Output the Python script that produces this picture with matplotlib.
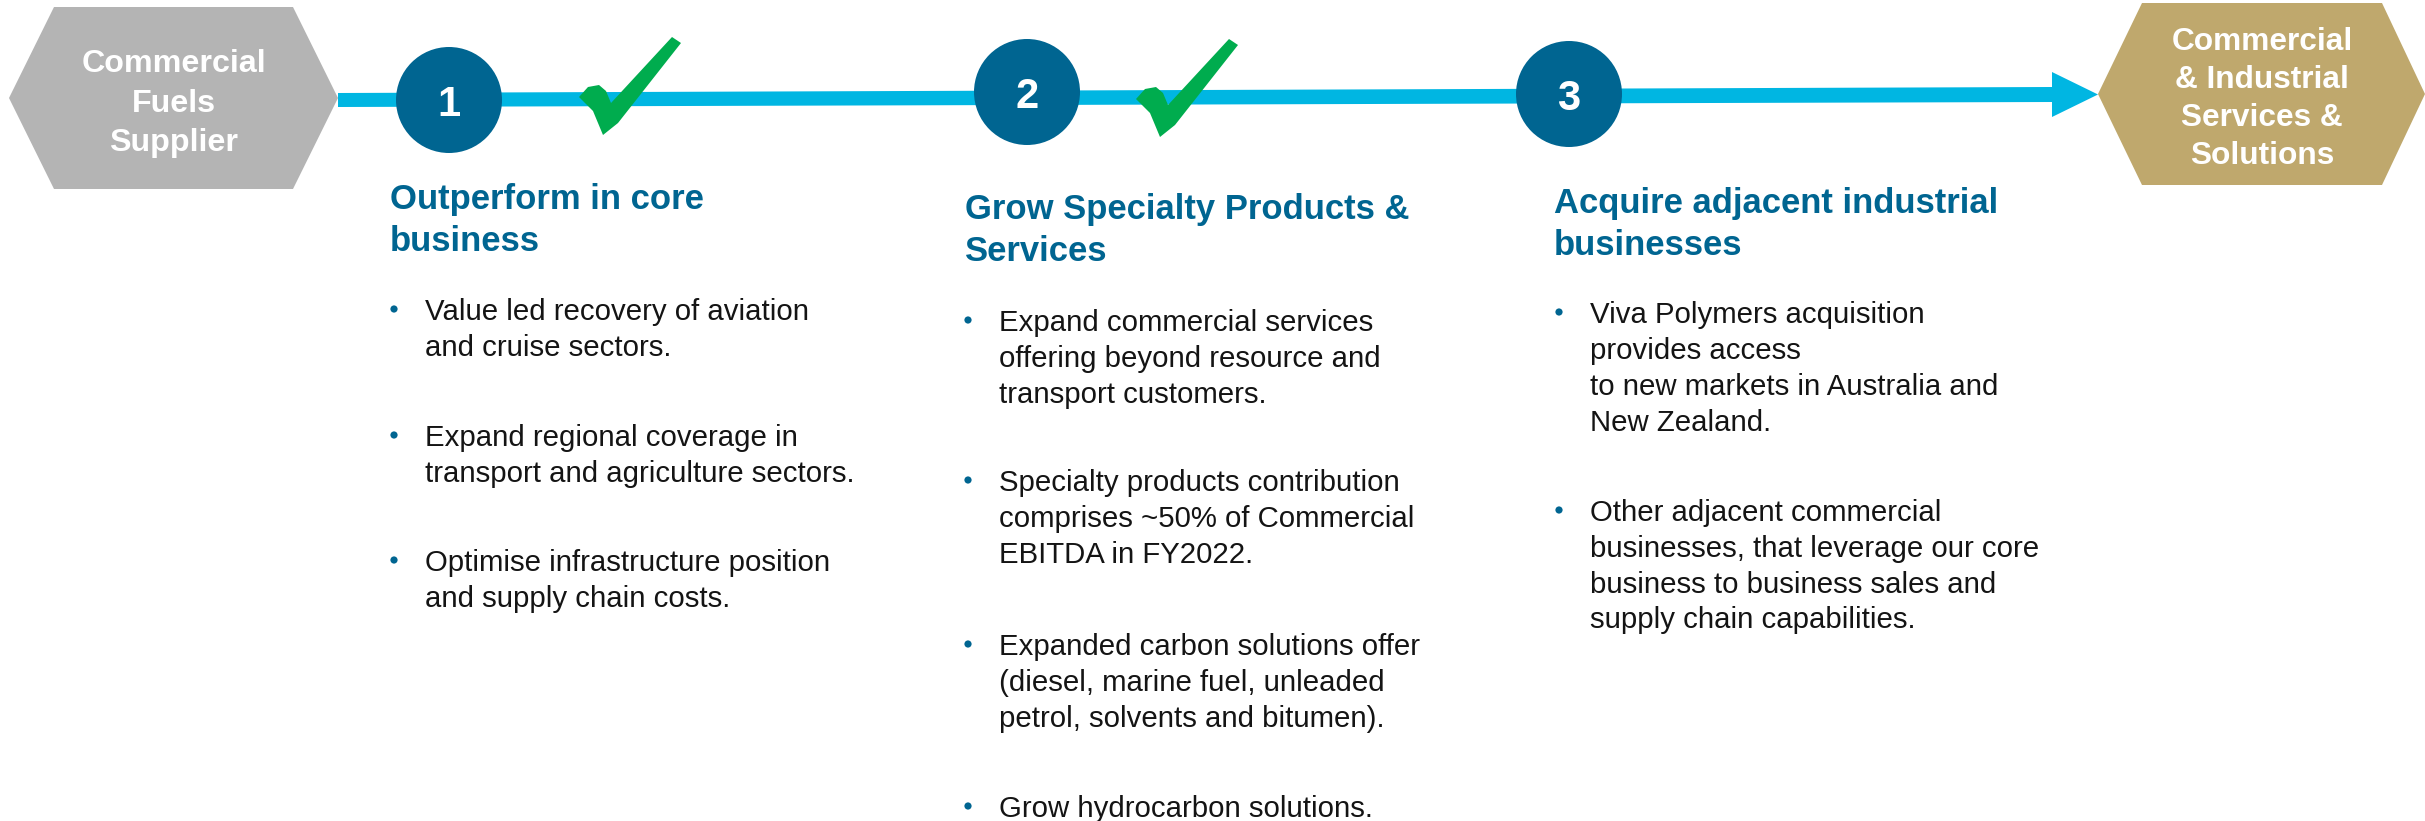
import matplotlib
matplotlib.use("Agg")
import matplotlib.pyplot as plt
from matplotlib.patches import Polygon, Circle

# ---------------- data ----------------
start_label = ["Commercial", "Fuels", "Supplier"]
end_label = ["Commercial", "& Industrial", "Services &", "Solutions"]
step_numbers = ["1", "2", "3"]
step_done = [True, True, False]
headings = [
    ["Outperform in core", "business"],
    ["Grow Specialty Products &", "Services"],
    ["Acquire adjacent industrial", "businesses"],
]
bullets = [
    [
        ["Value led recovery of aviation", "and cruise sectors."],
        ["Expand regional coverage in", "transport and agriculture sectors."],
        ["Optimise infrastructure position", "and supply chain costs."],
    ],
    [
        ["Expand commercial services", "offering beyond resource and", "transport customers."],
        ["Specialty products contribution", "comprises ~50% of Commercial", "EBITDA in FY2022."],
        ["Expanded carbon solutions offer", "(diesel, marine fuel, unleaded", "petrol, solvents and bitumen)."],
        ["Grow hydrocarbon solutions."],
    ],
    [
        ["Viva Polymers acquisition", "provides access", "to new markets in Australia and", "New Zealand."],
        ["Other adjacent commercial", "businesses, that leverage our core",
         "business to business sales and", "supply chain capabilities."],
    ],
]

# ---------------- layout (pixel coordinates) ----------------
W, H = 2425, 821
DARK_BLUE = "#006591"
CYAN = "#00B6E2"
GREEN = "#00AC4E"
GREY = "#B4B4B4"
GOLD = "#BFA86D"
TEXT = "#141414"
FONT = ["Liberation Sans", "DejaVu Sans"]

circle_cx = [449, 1027, 1569]
circle_cy = [100, 92, 94]
circle_r = 53
check_anchor = [(579, 37), (1136, 39)]
check_shape = [(0, 60), (9, 50), (20, 48), (27, 54), (32, 66), (93, 0), (102, 6),
               (39, 86), (24, 98), (14, 74)]
head_x = [390, 965, 1554]
head_base = [209, 219, 213]
head_step = 42
bullet_x = [394, 968, 1559]
text_x = [425, 999, 1590]
bullet_baselines = [
    [[320, 356], [446, 482], [571, 607]],
    [[331, 367, 403], [491, 527, 563], [655, 691, 727], [817]],
    [[323, 359, 395, 431], [521, 557, 593, 628]],
]

fig = plt.figure(figsize=(W / 100, H / 100), dpi=100)
ax = fig.add_axes([0, 0, 1, 1])
ax.set_xlim(0, W)
ax.set_ylim(H, 0)
ax.axis("off")

# start hexagon
ax.add_patch(Polygon([(9, 98), (54, 7), (293, 7), (338, 98), (293, 189), (54, 189)],
                     closed=True, fc=GREY, ec="none", zorder=2))
for i, s in enumerate(start_label):
    ax.text(173.5, 72 + 39.5 * i, s, ha="center", va="baseline", color="white",
            fontsize=23.2, fontweight="bold", family=FONT, zorder=5)

# end hexagon
ax.add_patch(Polygon([(2098, 94), (2142, 3), (2382, 3), (2425, 94), (2382, 185), (2142, 185)],
                     closed=True, fc=GOLD, ec="none", zorder=2))
for i, s in enumerate(end_label):
    ax.text(2262, 50 + 38 * i, s, ha="center", va="baseline", color="white",
            fontsize=22.8, fontweight="bold", family=FONT, zorder=5)

# timeline shaft and arrow head
ax.add_patch(Polygon([(338, 93), (2053, 87), (2053, 102), (338, 107)],
                     closed=True, fc=CYAN, ec="none", zorder=1))
ax.add_patch(Polygon([(2052, 72), (2098, 94.5), (2052, 117)],
                     closed=True, fc=CYAN, ec="none", zorder=1))

# circles with numbers
for cx, cy, num in zip(circle_cx, circle_cy, step_numbers):
    ax.add_patch(Circle((cx, cy), circle_r, fc=DARK_BLUE, ec="none", zorder=3))
    ax.text(cx, cy + 16, num, ha="center", va="baseline", color="white",
            fontsize=30, fontweight="bold", family=FONT, zorder=5)

# check marks
for (ax0, ay0), done in zip(check_anchor, step_done):
    if done:
        ax.add_patch(Polygon([(ax0 + u, ay0 + v) for u, v in check_shape],
                             closed=True, fc=GREEN, ec="none", zorder=4, joinstyle="round"))

# headings
for hx, hb, lines in zip(head_x, head_base, headings):
    for j, s in enumerate(lines):
        ax.text(hx, hb + head_step * j, s, ha="left", va="baseline", color=DARK_BLUE,
                fontsize=24.9, fontweight="bold", family=FONT)

# bullets
for c in range(3):
    for para, bases in zip(bullets[c], bullet_baselines[c]):
        ax.add_patch(Circle((bullet_x[c], bases[0] - 11), 3.6, fc=DARK_BLUE, ec="none"))
        for s, b in zip(para, bases):
            ax.text(text_x[c], b, s, ha="left", va="baseline", color=TEXT,
                    fontsize=21.2, family=FONT)

fig.savefig("out.png", dpi=100, facecolor="white")
